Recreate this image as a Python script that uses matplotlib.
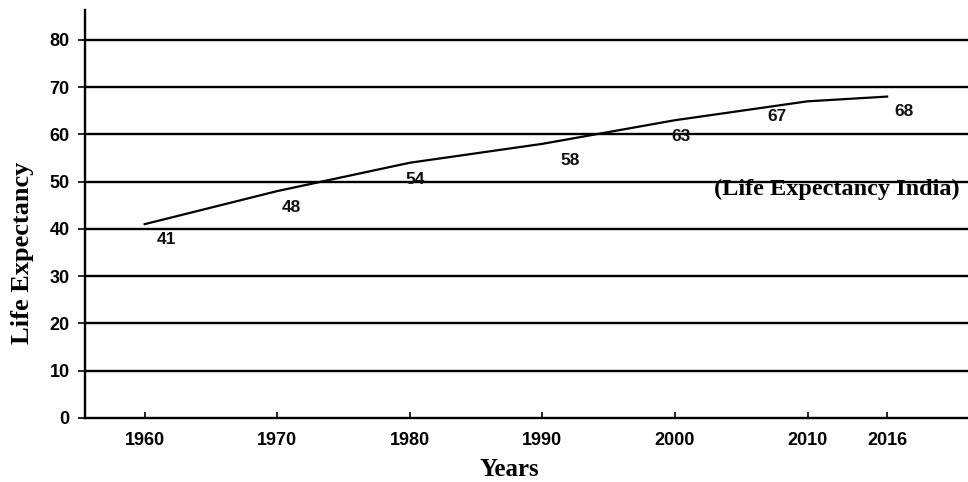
"""Life expectancy in India, 1960-2016 (line chart with value labels)."""

import matplotlib
matplotlib.use("Agg")
import matplotlib.pyplot as plt

# data
years = [1960, 1970, 1980, 1990, 2000, 2010, 2016]
life_expectancy = [41, 48, 54, 58, 63, 67, 68]
y_ticks = [0, 10, 20, 30, 40, 50, 60, 70, 80]

# label nudges (points) so the numbers sit under the line like in the print
label_dx = [16, 10, 4, 20, 4, -22, 12]
label_dy = [-11, -12, -12, -12, -12, -11, -11]

fig = plt.figure(figsize=(9.68, 4.82), dpi=100)
ax = fig.add_axes([0.0878, 0.133, 0.9122, 0.846])

ax.set_xlim(1955.5, 2022.1)
ax.set_ylim(0, 86.3)

# horizontal rules at every tick
for v in y_ticks[1:]:
    ax.axhline(v, color="black", linewidth=1.7, zorder=1)

ax.plot(years, life_expectancy, color="black", linewidth=1.6, zorder=3)

for x, y, dx, dy in zip(years, life_expectancy, label_dx, label_dy):
    ax.annotate(str(y), (x, y), xytext=(dx, dy), textcoords="offset points",
                ha="center", va="center", fontsize=12.5, fontweight="bold",
                family="Liberation Sans", color="#111")

ax.set_xticks(years)
ax.set_xticklabels([str(y) for y in years])
ax.set_yticks(y_ticks)

for side in ("top", "right"):
    ax.spines[side].set_visible(False)
for side in ("left", "bottom"):
    ax.spines[side].set_linewidth(1.7)
    ax.spines[side].set_color("black")

ax.tick_params(axis="x", direction="in", length=4, width=1.2, pad=10)
ax.tick_params(axis="y", direction="out", length=5, width=1.2, pad=6)
for lab in ax.get_xticklabels() + ax.get_yticklabels():
    lab.set_fontfamily("Liberation Sans")
    lab.set_fontweight("bold")
    lab.set_fontsize(13)

ax.set_xlabel("Years", fontsize=18, fontweight="bold", family="Liberation Serif")
ax.xaxis.set_label_coords(0.481, -0.098)
ax.set_ylabel("Life Expectancy", fontsize=19, fontweight="bold",
              family="Liberation Serif")
ax.yaxis.set_label_coords(-0.058, 0.404)

ax.text(2021.5, 48.3, "(Life Expectancy India)", ha="right", va="center",
        fontsize=17.5, fontweight="bold", family="Liberation Serif")

fig.savefig("out.png", dpi=100, facecolor="white")
